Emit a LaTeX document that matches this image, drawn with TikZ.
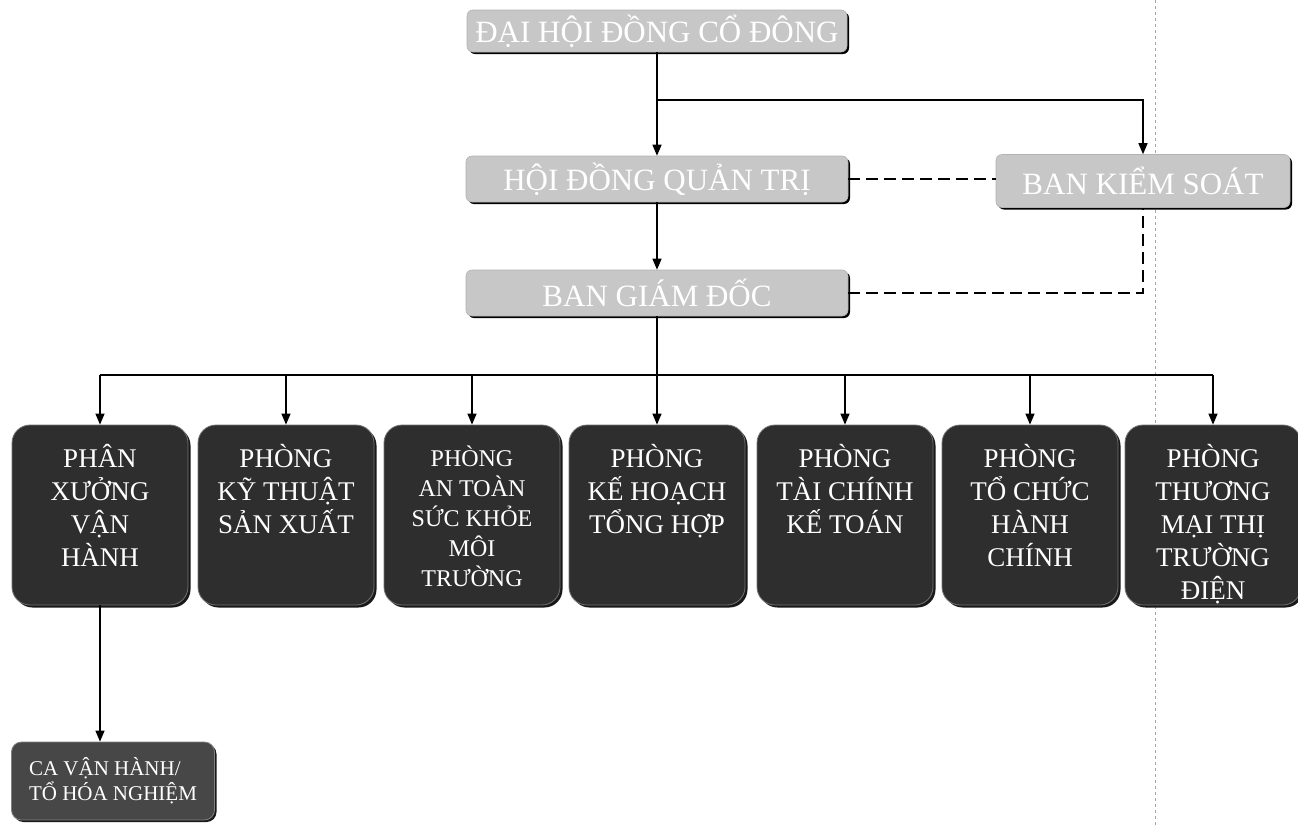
\documentclass[tikz,border=0pt]{standalone}
\usepackage{fontspec}
\setmainfont{Liberation Serif}
\usetikzlibrary{arrows.meta,shadows}
\tikzset{
  lightbox/.style={rectangle, rounded corners=6pt, fill=black!22, draw=black!30, line width=0.6pt,
    text=white, font=\fontsize{31}{34}\selectfont, inner sep=0pt,
    drop shadow={shadow xshift=2pt, shadow yshift=-2pt, fill=black, opacity=1}},
  deptbox/.style={rectangle, rounded corners=18pt, fill=black!82, draw=black!55, line width=0.8pt,
    minimum width=176pt, minimum height=180pt, inner sep=0pt,
    drop shadow={shadow xshift=2.5pt, shadow yshift=-2.5pt, fill=black!90, opacity=1}},
  depttext/.style={text=white, align=center, anchor=north, inner sep=0pt,
    font=\fontsize{27}{33}\selectfont},
  smalltext/.style={depttext, font=\fontsize{24}{30}\selectfont},
  cabox/.style={rectangle, rounded corners=10pt, fill=black!72, draw=black!50, line width=0.8pt,
    minimum width=203pt, minimum height=78pt, inner sep=0pt, text=white, align=left,
    font=\fontsize{21}{25}\selectfont,
    drop shadow={shadow xshift=2pt, shadow yshift=-2pt, fill=black!90, opacity=1}},
  arr/.style={line width=1.4pt, -{Triangle[length=11pt,width=9pt]}},
  link/.style={line width=1.4pt},
  dlink/.style={line width=1.4pt, dash pattern=on 12pt off 6pt},
  artifact/.style={line width=0.8pt, black!35, dash pattern=on 3pt off 3pt}
}
\begin{document}
\begin{tikzpicture}[x=1pt,y=-1pt]
\useasboundingbox (0,0) rectangle (1298,828);
\fill[white] (0,0) rectangle (1298,828);
\coordinate (scanA) at (1155,0);
\coordinate (scanB) at (1155,828);
\draw[artifact] (scanA) -- (scanB);

% top level
\node[lightbox, minimum width=380pt, minimum height=42pt] (dhd) at (657,31) {ĐẠI HỘI ĐỒNG CỔ ĐÔNG};
\node[lightbox, minimum width=382pt, minimum height=46pt] (hdqt) at (657,179) {HỘI ĐỒNG QUẢN TRỊ};
\node[lightbox, minimum width=294pt, minimum height=53pt] (bks) at (1143,181) {BAN KIỂM SOÁT};
\node[lightbox, minimum width=382pt, minimum height=46pt] (bgd) at (657,293) {BAN GIÁM ĐỐC};

% departments
\node[deptbox] (d1) at (100,515) {};
\node[deptbox] (d2) at (286,515) {};
\node[deptbox] (d3) at (472,515) {};
\node[deptbox] (d4) at (657,515) {};
\node[deptbox] (d5) at (845,515) {};
\node[deptbox] (d6) at (1030,515) {};
\node[deptbox] (d7) at (1213,515) {};

\node[depttext] (t1) at (100,444) {PHÂN\\XƯỞNG\\VẬN\\HÀNH};
\node[depttext] (t2) at (286,444) {PHÒNG\\KỸ THUẬT\\SẢN XUẤT};
\node[smalltext] (t3) at (472,446) {PHÒNG\\AN TOÀN\\SỨC KHỎE\\MÔI\\TRƯỜNG};
\node[depttext] (t4) at (657,444) {PHÒNG\\KẾ HOẠCH\\TỔNG HỢP};
\node[depttext] (t5) at (845,444) {PHÒNG\\TÀI CHÍNH\\KẾ TOÁN};
\node[depttext] (t6) at (1030,444) {PHÒNG\\TỔ CHỨC\\HÀNH\\CHÍNH};
\node[depttext] (t7) at (1213,444) {PHÒNG\\THƯƠNG\\MẠI THỊ\\TRƯỜNG\\ĐIỆN};

\node[cabox] (ca) at (113,781) {CA VẬN HÀNH/\\TỔ HÓA NGHIỆM};

% connectors
\coordinate (br) at (657,100);
\coordinate (bus) at (657,375);
\draw[arr] (dhd.south) -- (hdqt.north);
\draw[arr] (br) -| (bks.north);
\draw[dlink] (hdqt.east) -- (hdqt.east -| bks.west);
\draw[arr] (hdqt.south) -- (bgd.north);
\draw[dlink] (bgd.east) -| (bks.south);
\draw[link] (bgd.south) -- (bus);
\draw[link] (bus -| d1.north) -- (bus -| d7.north);
\foreach \d in {d1,d2,d3,d4,d5,d6,d7}{
  \draw[arr] (bus -| \d.north) -- (\d.north);
}
\draw[arr] (d1.south) -- (d1.south |- ca.north);
\end{tikzpicture}
\end{document}
